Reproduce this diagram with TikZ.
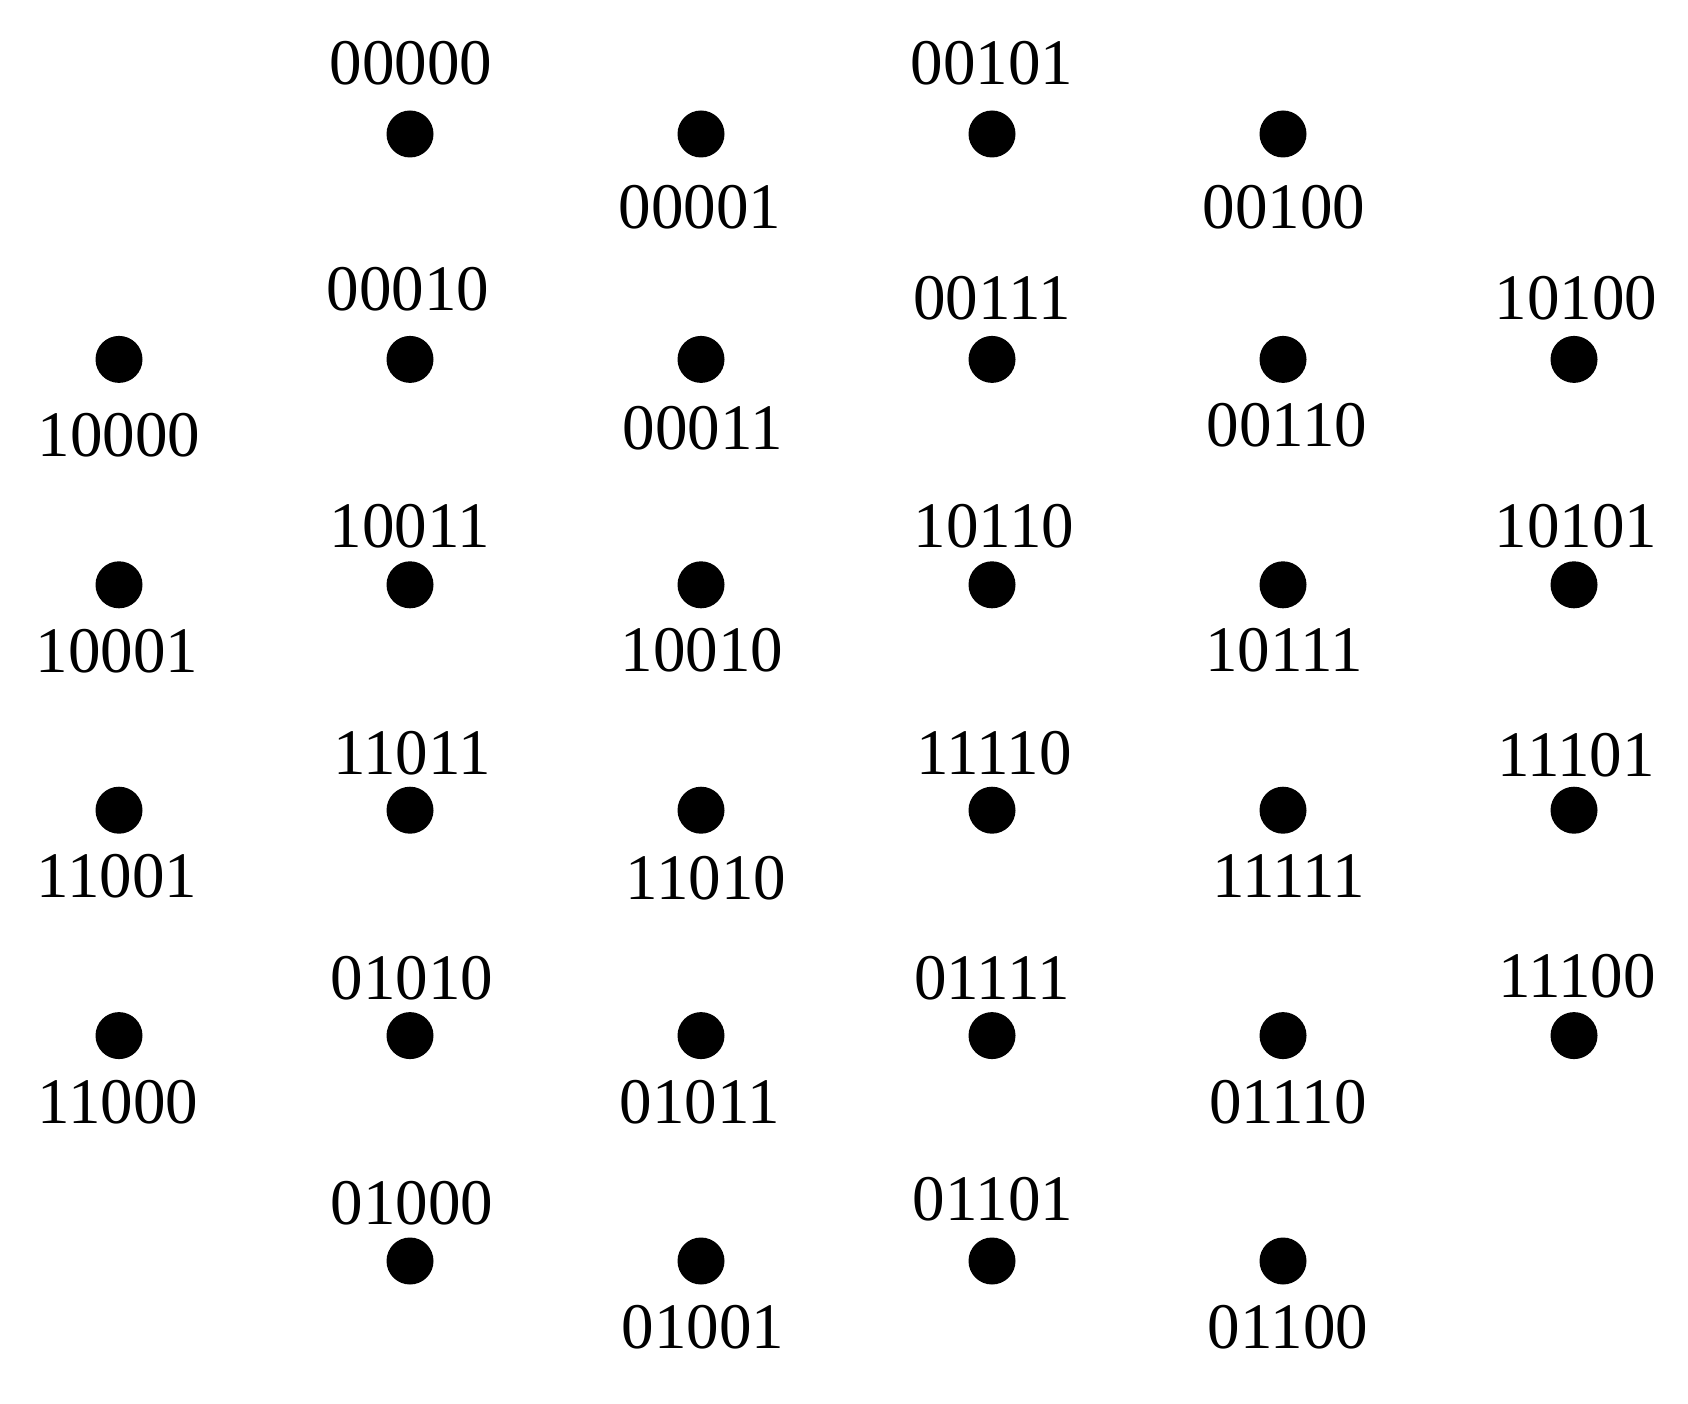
\documentclass[tikz,border=0pt]{standalone}
\usepackage{fontspec}
\setmainfont{Liberation Serif}
\begin{document}
\begin{tikzpicture}[x=1pt,y=-1pt,
  dot/.style={circle,fill=black,draw=none,inner sep=0pt,minimum size=47pt},
  lab/.style={inner sep=0pt,anchor=base,font=\fontsize{65}{70}\selectfont}]
\useasboundingbox (0,0) rectangle (1688,1404);
\foreach \c/\r/\s/\dx/\dy in {
  1/0/00000/1/-49, 2/0/00001/-1/95, 3/0/00101/0/-49, 4/0/00100/1/95,
  0/1/10000/0/97, 1/1/00010/-2/-49, 2/1/00011/2/90, 3/1/00111/0/-40, 4/1/00110/4/87, 5/1/10100/2/-40,
  0/2/10001/-2/88, 1/2/10011/0/-37, 2/2/10010/1/87, 3/2/10110/2/-37, 4/2/10111/1/87, 5/2/10101/2/-37,
  0/3/11001/-2/87, 1/3/11011/2/-36, 2/3/11010/5/89, 3/3/11110/2/-36, 4/3/11111/6/87, 5/3/11101/2/-34,
  0/4/11000/-1/88, 1/4/01010/2/-36, 2/4/01011/-1/88, 3/4/01111/0/-36, 4/4/01110/5/88, 5/4/11100/3/-38,
  1/5/01000/2/-37, 2/5/01001/2/87, 3/5/01101/1/-41, 4/5/01100/5/87}{
  \node[dot] (d\s) at ({119+291*\c},{134+225.4*\r}) {};
  \path (d\s.center) ++(\dx,\dy) node[lab] (l\s) {\s};
}
\end{tikzpicture}
\end{document}
